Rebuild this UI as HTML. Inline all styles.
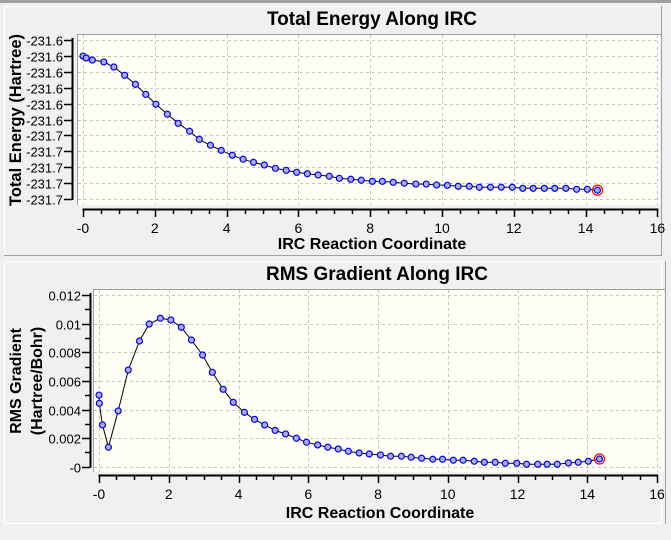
<!DOCTYPE html>
<html><head><meta charset="utf-8">
<style>
html,body{margin:0;padding:0;background:#f0f0f0;}
svg{display:block;font-family:"Liberation Sans",sans-serif;}
</style></head>
<body>
<svg id="svg" width="671" height="540" viewBox="0 0 671 540" xmlns="http://www.w3.org/2000/svg">
<rect x="0" y="0" width="671" height="540" fill="#f0f0f0"/>
<rect x="0" y="0" width="671" height="3" fill="#a0a0a0"/>
<g>
<rect x="4.5" y="6.5" width="657" height="249" fill="none" stroke="#fff"/>
<line x1="661.5" y1="6" x2="661.5" y2="256" stroke="#a0a0a0"/>
<line x1="4" y1="255.5" x2="662" y2="255.5" stroke="#a0a0a0"/>
<text x="372" y="25" font-size="19" font-weight="bold" text-anchor="middle">Total Energy Along IRC</text>
<line x1="77" y1="34.5" x2="661" y2="34.5" stroke="#a0a0a0"/>
<rect x="77" y="35" width="583" height="170" fill="#fffff6"/>
<line x1="77.5" y1="35" x2="77.5" y2="205" stroke="#a0a0a0"/>
<text transform="translate(21,120) rotate(-90)" font-size="16.5" font-weight="bold" text-anchor="middle">Total Energy (Hartree)</text>
<text x="372" y="249" font-size="16" font-weight="bold" text-anchor="middle">IRC Reaction Coordinate</text>
<g id="g1"></g>
</g>
<g>
<rect x="4.5" y="261.5" width="657" height="262" fill="none" stroke="#fff"/>
<line x1="665.5" y1="261" x2="665.5" y2="524" stroke="#a0a0a0"/>
<text x="377" y="280" font-size="19" font-weight="bold" text-anchor="middle">RMS Gradient Along IRC</text>
<line x1="93" y1="289.5" x2="665" y2="289.5" stroke="#a0a0a0"/>
<rect x="93" y="290" width="571" height="182" fill="#fffff6"/>
<line x1="93.5" y1="290" x2="93.5" y2="472" stroke="#a0a0a0"/>
<text transform="translate(21,381) rotate(-90)" font-size="16" font-weight="bold" text-anchor="middle">RMS Gradient</text>
<text transform="translate(42,381) rotate(-90)" font-size="16" font-weight="bold" text-anchor="middle">(Hartree/Bohr)</text>
<text x="380" y="518" font-size="16" font-weight="bold" text-anchor="middle">IRC Reaction Coordinate</text>
<g id="g2"></g>
</g>
</svg>
<script>
const xTicks = [0,2,4,6,8,10,12,14,16];
const xTickLabels = ["-0","2","4","6","8","10","12","14","16"];
const energyX = [0,0.09,0.26,0.58,0.86,1.16,1.46,1.75,2.03,2.35,2.65,2.97,3.24,3.55,3.85,4.16,4.46,4.75,5.05,5.36,5.66,5.95,6.25,6.55,6.86,7.14,7.46,7.75,8.06,8.34,8.64,8.95,9.27,9.56,9.85,10.15,10.45,10.76,11.04,11.35,11.65,11.96,12.25,12.54,12.85,13.14,13.45,13.75,14.05,14.33];
const energyY = [-231.6101,-231.6113,-231.6126,-231.6138,-231.6170,-231.6222,-231.6279,-231.6342,-231.6404,-231.6467,-231.6524,-231.6574,-231.6625,-231.6662,-231.6694,-231.6725,-231.6750,-231.6769,-231.6786,-231.6807,-231.6820,-231.6832,-231.6841,-231.6849,-231.6857,-231.6870,-231.6876,-231.6882,-231.6889,-231.6889,-231.6895,-231.6901,-231.6906,-231.6906,-231.6912,-231.6914,-231.6920,-231.6920,-231.6926,-231.6926,-231.6926,-231.6926,-231.6933,-231.6933,-231.6933,-231.6933,-231.6933,-231.6939,-231.6939,-231.6945];
const energyTicks = [-231.60,-231.61,-231.62,-231.63,-231.64,-231.65,-231.66,-231.67,-231.68,-231.69,-231.70];
const energyTickLabels = ["-231.6","-231.6","-231.6","-231.6","-231.6","-231.6","-231.7","-231.7","-231.7","-231.7","-231.7"];
const gradX = [0,0.01,0.1,0.27,0.55,0.84,1.16,1.44,1.76,2.06,2.36,2.65,2.97,3.25,3.56,3.85,4.17,4.46,4.75,5.05,5.35,5.66,5.95,6.27,6.56,6.86,7.15,7.46,7.75,8.07,8.36,8.67,8.95,9.25,9.57,9.85,10.16,10.44,10.76,11.05,11.36,11.65,11.98,12.26,12.58,12.85,13.14,13.46,13.74,14.03,14.35];
const gradY = [0.00501,0.00443,0.00292,0.00136,0.0039,0.00676,0.00879,0.00998,0.01038,0.01026,0.00975,0.00886,0.00781,0.0066,0.00541,0.0045,0.0038,0.00331,0.00292,0.00254,0.00229,0.00199,0.00171,0.00152,0.00136,0.00124,0.00108,0.00096,0.00089,0.00082,0.00073,0.00073,0.00066,0.00059,0.00052,0.00052,0.00045,0.00045,0.00038,0.00031,0.00031,0.00024,0.00024,0.00017,0.00017,0.00017,0.00017,0.00026,0.00031,0.00038,0.00054];
const gradTicks = [0,0.002,0.004,0.006,0.008,0.01,0.012];
const gradTickLabels = ["-0","0.002","0.004","0.006","0.008","0.01","0.012"];

const NS="http://www.w3.org/2000/svg";
function mk(parent,tag,attrs,txt){const e=document.createElementNS(NS,tag);for(const k in attrs)e.setAttribute(k,attrs[k]);if(txt!==undefined)e.textContent=txt;parent.appendChild(e);return e;}

function drawChart(g,cfg){
  const sx=v=>cfg.x0+v*cfg.xs;
  const sy=v=>cfg.y0+(v-cfg.yBase)*cfg.ys;
  xTicks.forEach(t=>{const x=Math.round(sx(t))+0.5;const l=mk(g,'line',{x1:x,y1:cfg.pTop,x2:x,y2:cfg.pBot,stroke:'#c4c4c4','stroke-dasharray':'3,3'});
    
    });
  cfg.yTicks.forEach(t=>{const y=Math.round(sy(t))+0.5;const l=mk(g,'line',{x1:cfg.pLeft,y1:y,x2:cfg.pRight,y2:y,stroke:'#c4c4c4','stroke-dasharray':'3,3'});
    
    });
  const ax=mk(g,'line',{x1:sx(0)-0.5,y1:cfg.xAxisY+0.5,x2:sx(16)+1,y2:cfg.xAxisY+0.5,stroke:'#000','stroke-width':2});
  
  
  for(let v=0;v<=16;v+=0.5){const x=Math.round(sx(v))+0.5;const major=(v%2===0);
    mk(g,'line',{x1:x,y1:cfg.xAxisY,x2:x,y2:cfg.xAxisY+(major?8:5),stroke:'#000','stroke-width':1.5});}
  xTicks.forEach((t,i)=>{const tx=mk(g,'text',{x:sx(t),y:cfg.xAxisY+24,'font-size':14,'text-anchor':'middle'},xTickLabels[i]);
    
    });
  const ys0=sy(cfg.yTicks[0]), ys1=sy(cfg.yTicks[cfg.yTicks.length-1]);
  const ay=mk(g,'line',{x1:cfg.yAxisX+0.5,y1:Math.min(ys0,ys1)-2,x2:cfg.yAxisX+0.5,y2:Math.max(ys0,ys1)+1,stroke:'#000','stroke-width':2});
  
  
  cfg.yTicks.forEach((t,i)=>{const y=Math.round(sy(t))+0.5;
    mk(g,'line',{x1:cfg.yAxisX-8,y1:y,x2:cfg.yAxisX,y2:y,stroke:'#000','stroke-width':1.5});
    if(cfg.minor&&i<cfg.yTicks.length-1){const ym=Math.round((sy(t)+sy(cfg.yTicks[i+1]))/2)+0.5;mk(g,'line',{x1:cfg.yAxisX-5,y1:ym,x2:cfg.yAxisX,y2:ym,stroke:'#000','stroke-width':1.5});}
    const tx=mk(g,'text',{x:cfg.yAxisX-9,y:y+5,'font-size':13,'text-anchor':'end'},cfg.yLabels[i]);
    
    });
  const pts=cfg.xs_.map((v,i)=>sx(v).toFixed(1)+','+sy(cfg.ys_[i]).toFixed(1)).join(' ');
  const pl=mk(g,'polyline',{points:pts,fill:'none',stroke:'#000','stroke-width':1});
  
  
  cfg.xs_.forEach((v,i)=>{const c=mk(g,'circle',{cx:sx(v),cy:sy(cfg.ys_[i]),r:3,fill:'#a8b0d8',stroke:'#0000ff','stroke-width':1.2});
    
    });
  const n=cfg.xs_.length-1;
  const rc=mk(g,'circle',{cx:sx(cfg.xs_[n]),cy:sy(cfg.ys_[n]),r:5,fill:'none',stroke:'#ff0000','stroke-width':1.2});
  
  
}
drawChart(document.getElementById('g1'),{x0:83,xs:35.9,y0:40,yBase:-231.60,ys:-1590,yTicks:energyTicks,yLabels:energyTickLabels,
  pTop:35,pBot:205,pLeft:78,pRight:660,xAxisY:209,yAxisX:72,minor:false,xs_:energyX,ys_:energyY});
drawChart(document.getElementById('g2'),{x0:99,xs:34.875,y0:466.7,yBase:0,ys:-14300,yTicks:gradTicks,yLabels:gradTickLabels,
  pTop:290,pBot:472,pLeft:94,pRight:664,xAxisY:475,yAxisX:90,minor:true,xs_:gradX,ys_:gradY});
</script>
</body></html>
